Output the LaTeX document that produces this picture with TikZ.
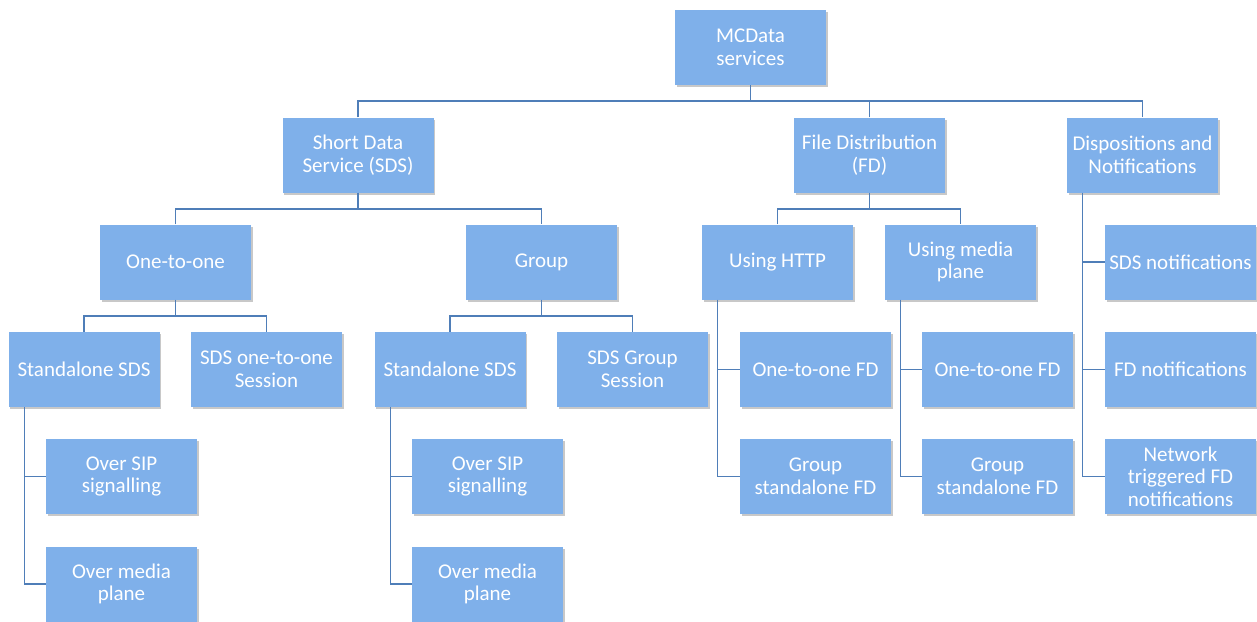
\documentclass[tikz,border=0pt]{standalone}
\usepackage{fontspec}
\setmainfont{Carlito}
\usetikzlibrary{shadows}
\definecolor{boxfill}{RGB}{127,176,234}
\definecolor{linecol}{RGB}{79,126,184}
\tikzset{
  box/.style={draw=none, fill=boxfill, minimum width=151pt, minimum height=75pt,
    inner sep=2pt, align=center, text=white,
    font=\fontsize{21}{22.5}\selectfont,
    drop shadow={shadow xshift=1.5pt, shadow yshift=-2pt, opacity=0.3, fill=black!70}},
  conn/.style={draw=linecol, line width=1.3pt}
}
\begin{document}
\begin{tikzpicture}[x=1pt,y=1pt]
\useasboundingbox (0,0) rectangle (1257,-621);
\fill[white] (0,0) rectangle (1257,-621);
% level 0
\node[box] (mc) at (750.5,-47.5) {MCData\\services};
% level 1
\node[box] (sds) at (358,-155) {Short Data\\Service (SDS)};
\node[box] (fd) at (869.5,-155) {File Distribution\\(FD)};
\node[box] (dn) at (1142.5,-155) {Dispositions and\\Notifications};
% level 2
\node[box] (oto) at (175.5,-262) {One-to-one};
\node[box] (grp) at (541.5,-262) {Group};
\node[box] (http) at (777.5,-262) {Using HTTP};
\node[box] (mp) at (960.5,-262) {Using media\\plane};
\node[box] (sdsn) at (1180.5,-262) {SDS notifications};
% level 3
\node[box] (sa1) at (84,-369.5) {Standalone SDS};
\node[box] (sess1) at (266.5,-369.5) {SDS one-to-one\\Session};
\node[box] (sa2) at (450,-369.5) {Standalone SDS};
\node[box] (sess2) at (632.5,-369.5) {SDS Group\\Session};
\node[box] (ofd1) at (815.5,-369.5) {One-to-one FD};
\node[box] (ofd2) at (997.5,-369.5) {One-to-one FD};
\node[box] (fdn) at (1180.5,-369.5) {FD notifications};
% level 4
\node[box] (sip1) at (121.5,-476.5) {Over SIP\\signalling};
\node[box] (sip2) at (487.5,-476.5) {Over SIP\\signalling};
\node[box] (gfd1) at (815.5,-476.5) {Group\\standalone FD};
\node[box] (gfd2) at (997.5,-476.5) {Group\\standalone FD};
\node[box] (ntf) at (1180.5,-476.5) {Network\\triggered FD\\notifications};
% level 5
\node[box] (med1) at (121.5,-584) {Over media\\plane};
\node[box] (med2) at (487.5,-584) {Over media\\plane};
% bar coordinates
\coordinate (b1) at (0,-101);
\coordinate (b2) at (0,-209);
\coordinate (b3) at (0,-316);
% top level connectors
\draw[conn] (mc.south) -- (mc.south |- b1);
\draw[conn] (sds.north) -- (sds.north |- b1) -- (dn.north |- b1) -- (dn.north);
\draw[conn] (fd.north) -- (fd.north |- b1);
% SDS
\draw[conn] (sds.south) -- (sds.south |- b2);
\draw[conn] (oto.north) -- (oto.north |- b2) -- (grp.north |- b2) -- (grp.north);
% FD
\draw[conn] (fd.south) -- (fd.south |- b2);
\draw[conn] (http.north) -- (http.north |- b2) -- (mp.north |- b2) -- (mp.north);
% one-to-one
\draw[conn] (oto.south) -- (oto.south |- b3);
\draw[conn] (sa1.north) -- (sa1.north |- b3) -- (sess1.north |- b3) -- (sess1.north);
% group
\draw[conn] (grp.south) -- (grp.south |- b3);
\draw[conn] (sa2.north) -- (sa2.north |- b3) -- (sess2.north |- b3) -- (sess2.north);
% side trees
\coordinate (v1) at ([xshift=16pt]sa1.south west);
\draw[conn] (v1) |- (med1.west);
\draw[conn] (v1 |- sip1.west) -- (sip1.west);
\coordinate (v2) at ([xshift=16pt]sa2.south west);
\draw[conn] (v2) |- (med2.west);
\draw[conn] (v2 |- sip2.west) -- (sip2.west);
\coordinate (v3) at ([xshift=16pt]http.south west);
\draw[conn] (v3) |- (gfd1.west);
\draw[conn] (v3 |- ofd1.west) -- (ofd1.west);
\coordinate (v4) at ([xshift=16pt]mp.south west);
\draw[conn] (v4) |- (gfd2.west);
\draw[conn] (v4 |- ofd2.west) -- (ofd2.west);
\coordinate (v5) at ([xshift=16pt]dn.south west);
\draw[conn] (v5) |- (ntf.west);
\draw[conn] (v5 |- sdsn.west) -- (sdsn.west);
\draw[conn] (v5 |- fdn.west) -- (fdn.west);
\end{tikzpicture}
\end{document}
